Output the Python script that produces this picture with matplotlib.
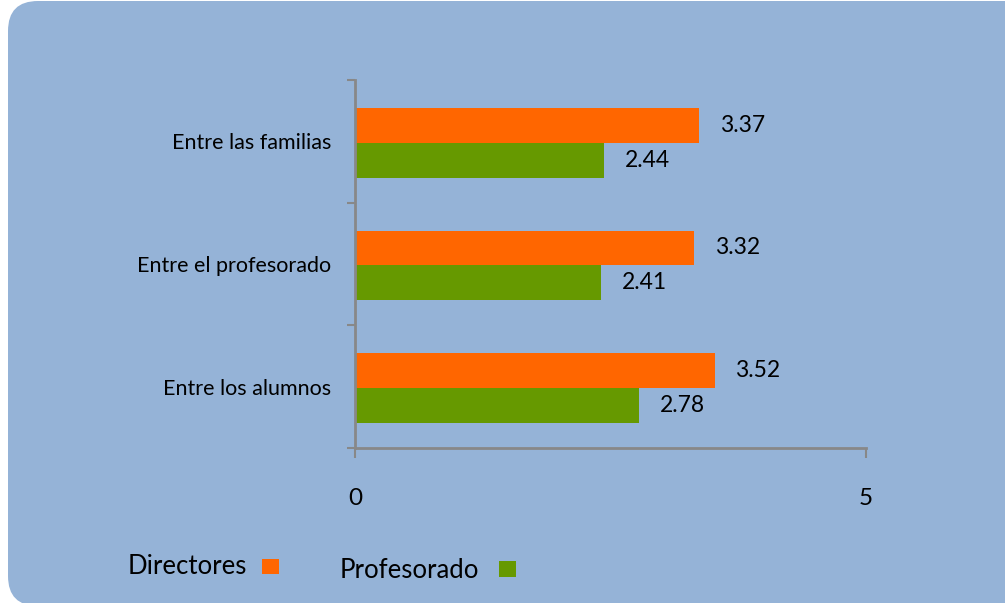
import matplotlib
matplotlib.use("Agg")
import matplotlib.pyplot as plt
from matplotlib.patches import FancyBboxPatch, Rectangle
import numpy as np

# datos
categorias = ["Entre los alumnos", "Entre el profesorado", "Entre las familias"]
directores = [3.52, 3.32, 3.37]
profesorado = [2.78, 2.41, 2.44]
series = ["Directores", "Profesorado"]

C_DIR = "#FF6600"
C_PROF = "#669900"
C_FONDO = "#95B3D7"
C_EJE = "#888888"
FUENTE = "Lato"

W, H = 1005, 603
fig = plt.figure(figsize=(W / 100, H / 100), dpi=100)
fig.patch.set_facecolor("white")

# fondo redondeado
bg = fig.add_axes([0, 0, 1, 1])
bg.set_xlim(0, W)
bg.set_ylim(H, 0)
bg.axis("off")
bg.add_patch(FancyBboxPatch((8, 1), 1060, 605, boxstyle="round,pad=0,rounding_size=30",
                            facecolor=C_FONDO, edgecolor="none"))

ax = fig.add_axes([355 / W, 1 - 448 / H, 511 / W, 368 / H])
ax.set_facecolor("none")

y = np.arange(len(categorias))
alto = 0.285
desp = -0.012
ax.barh(y + desp + alto / 2, directores, height=alto, color=C_DIR)
ax.barh(y + desp - alto / 2, profesorado, height=alto, color=C_PROF)

for yi, v in zip(y, directores):
    ax.text(v + 0.2, yi + desp + alto / 2, f"{v:.2f}", va="center", ha="left",
            fontsize=16.5, family=FUENTE)
for yi, v in zip(y, profesorado):
    ax.text(v + 0.2, yi + desp - alto / 2, f"{v:.2f}", va="center", ha="left",
            fontsize=16.5, family=FUENTE)

ax.set_xlim(0, 5)
ax.set_ylim(-0.5, 2.5)
ax.set_xticks([0, 5])
ax.set_xticklabels(["0", "5"], fontsize=17.5, family=FUENTE)
ax.set_yticks([-0.5, 0.5, 1.5, 2.5])
ax.set_yticklabels([])
ax.set_yticks(y, minor=True)
ax.set_yticklabels(categorias, minor=True, fontsize=15.5, family=FUENTE)
ax.tick_params(axis="y", which="major", length=6, width=1.5, color=C_EJE)
ax.tick_params(axis="y", which="minor", length=0, pad=17)
ax.tick_params(axis="x", length=7, width=1.5, color=C_EJE, pad=22)
for s in ["top", "right"]:
    ax.spines[s].set_visible(False)
for s in ["left", "bottom"]:
    ax.spines[s].set_color(C_EJE)
    ax.spines[s].set_linewidth(2)

# leyenda
bg.text(128, 567, series[0], va="center", ha="left", fontsize=18.5, family=FUENTE)
bg.add_patch(Rectangle((262, 559), 17, 15, facecolor=C_DIR))
bg.text(340, 570, series[1], va="center", ha="left", fontsize=18.5, family=FUENTE)
bg.add_patch(Rectangle((499, 561), 17, 16, facecolor=C_PROF))

fig.savefig("out.png", dpi=100, facecolor=fig.get_facecolor())
